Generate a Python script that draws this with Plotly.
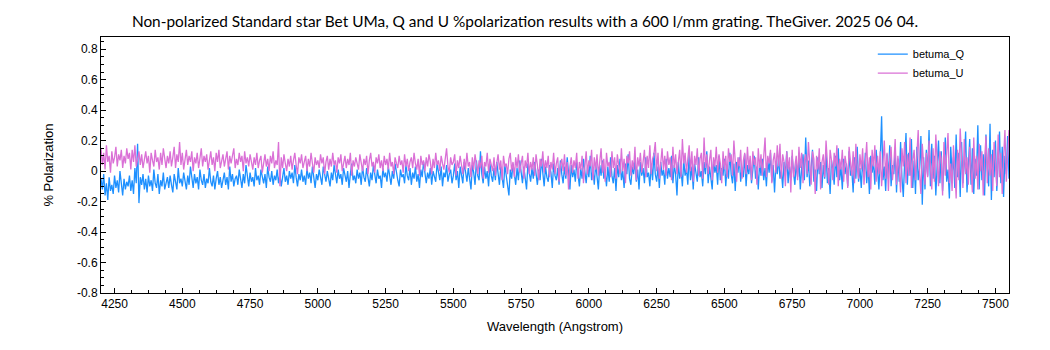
import numpy as np
import plotly.graph_objects as go

# Wavelength sampling of the two series (Angstrom)
WL_START = 4200
WL_STEP = 5

# % polarization, Q parameter (5 A steps from 4200 A)
betuma_q = [
    -0.05, -0.12, -0.02, -0.16, -0.08, -0.19, -0.04, -0.13, -0.09, -0.15,
    -0.03, -0.11, -0.06, -0.14, 0.00, -0.09, -0.16, -0.05, -0.12, -0.07,
    -0.10, -0.03, -0.13, -0.06, -0.15, 0.02, -0.08, 0.18, -0.21, -0.04,
    -0.09, -0.02, -0.12, -0.05, -0.14, -0.03, -0.10, -0.06, -0.13, 0.01,
    -0.08, -0.11, -0.02, -0.15, -0.06, -0.10, -0.01, -0.12, -0.07, -0.04,
    -0.11, -0.03, -0.09, -0.14, -0.02, -0.07, -0.12, 0.02, -0.08, -0.05,
    -0.10, -0.01, -0.07, -0.12, -0.03, -0.09, 0.03, -0.06, -0.11, -0.02,
    -0.08, -0.04, -0.12, 0.01, -0.06, -0.09, -0.02, -0.11, -0.05, -0.08,
    0.02, -0.07, -0.10, -0.03, -0.12, -0.05, 0.00, -0.09, -0.04, -0.11,
    -0.06, -0.01, -0.09, -0.04, -0.12, 0.03, -0.07, -0.02, -0.10, -0.05,
    -0.03, -0.09, 0.01, -0.06, -0.11, -0.02, -0.08, 0.04, -0.05, -0.10,
    -0.01, -0.07, -0.04, -0.10, 0.02, -0.06, -0.03, -0.09, 0.01, -0.05,
    -0.08, -0.02, -0.11, 0.03, -0.04, -0.07, 0.00, -0.09, -0.03, -0.06,
    0.01, -0.08, -0.02, -0.10, -0.05, 0.02, -0.07, -0.03, -0.09, 0.00,
    -0.05, -0.01, -0.08, 0.04, -0.04, -0.10, -0.02, -0.06, 0.01, -0.07,
    -0.03, -0.09, 0.02, -0.05, -0.01, -0.08, 0.03, -0.04, -0.11, -0.02,
    -0.06, 0.01, -0.04, -0.09, 0.03, -0.02, -0.07, 0.00, -0.05, -0.10,
    -0.01, -0.06, 0.04, -0.03, -0.08, 0.01, -0.05, -0.02, -0.09, 0.02,
    -0.04, -0.07, 0.00, -0.11, -0.02, 0.05, -0.06, -0.03, -0.08, 0.01,
    -0.05, -0.01, -0.09, 0.03, -0.04, -0.07, 0.02, -0.03, -0.10, -0.01,
    -0.06, 0.04, -0.02, -0.08, 0.01, -0.05, -0.03, -0.11, 0.02, -0.04,
    -0.01, -0.07, 0.03, -0.03, -0.09, 0.00, -0.05, 0.05, -0.02, -0.06,
    -0.10, 0.01, -0.04, -0.02, -0.08, 0.04, -0.03, -0.06, 0.02, -0.09,
    -0.01, -0.05, 0.03, -0.07, -0.02, -0.11, 0.01, -0.04, 0.06, -0.03,
    -0.08, -0.01, -0.05, 0.02, -0.09, 0.00, -0.03, -0.07, 0.05, -0.02,
    -0.06, 0.03, -0.10, -0.01, -0.04, 0.04, -0.07, -0.02, 0.01, -0.08,
    -0.03, 0.05, -0.06, 0.00, -0.11, 0.03, -0.04, -0.08, 0.06, -0.02,
    -0.07, 0.02, -0.05, -0.12, 0.04, -0.01, -0.09, 0.07, -0.03, -0.06,
    0.13, -0.02, -0.08, 0.03, -0.05, 0.00, -0.10, 0.05, -0.03, -0.07,
    0.02, -0.06, 0.06, -0.01, -0.09, 0.03, -0.04, -0.11, 0.04, -0.02,
    -0.07, -0.16, 0.01, -0.05, 0.05, -0.03, -0.09, 0.02, -0.06, 0.07,
    -0.02, -0.08, 0.03, -0.04, -0.12, 0.05, -0.01, -0.07, 0.02, -0.05,
    0.06, -0.03, -0.09, 0.01, -0.06, 0.08, -0.02, -0.10, 0.03, -0.04,
    -0.07, 0.04, -0.01, -0.11, 0.05, -0.03, -0.06, 0.02, -0.09, 0.07,
    -0.02, -0.08, 0.03, -0.05, 0.09, -0.01, -0.12, 0.04, -0.04, 0.01,
    -0.07, 0.06, -0.03, -0.10, 0.02, -0.05, 0.08, -0.02, -0.08, 0.03,
    -0.04, 0.10, -0.06, 0.01, -0.09, 0.05, -0.02, -0.12, 0.04, -0.03,
    0.07, -0.05, -0.01, -0.10, 0.03, -0.07, 0.09, -0.03, -0.08, 0.02,
    -0.13, 0.04, -0.04, 0.08, -0.06, 0.00, -0.11, 0.05, -0.02, 0.11,
    -0.05, -0.09, 0.03, -0.02, 0.07, -0.07, 0.01, -0.12, 0.06, -0.03,
    0.02, -0.08, 0.09, -0.04, -0.01, -0.10, 0.05, -0.06, 0.12, -0.02,
    -0.07, 0.03, -0.11, 0.06, -0.03, 0.01, -0.09, 0.08, -0.05, 0.02,
    -0.04, 0.10, -0.08, 0.04, -0.02, -0.16, 0.06, -0.05, 0.01, -0.10,
    0.07, -0.03, 0.02, -0.09, 0.11, -0.06, 0.03, -0.12, 0.05, -0.01,
    -0.07, 0.09, -0.04, 0.00, -0.10, 0.06, -0.02, 0.13, -0.08, 0.03,
    -0.05, -0.12, 0.07, -0.01, 0.04, -0.09, 0.10, -0.06, 0.02, -0.03,
    0.08, -0.10, 0.03, -0.05, 0.12, -0.02, -0.08, 0.05, -0.13, 0.06,
    -0.01, 0.09, -0.07, 0.02, -0.04, 0.11, -0.10, 0.04, -0.02, 0.07,
    -0.08, 0.01, 0.10, -0.05, 0.03, -0.12, 0.06, -0.03, 0.08, -0.06,
    0.02, -0.10, 0.07, -0.01, 0.12, -0.07, 0.04, -0.14, 0.05, -0.02,
    0.09, -0.05, 0.01, -0.11, 0.06, -0.03, 0.13, -0.08, 0.03, -0.06,
    0.10, -0.01, -0.09, 0.05, -0.04, 0.08, -0.12, 0.02, 0.11, -0.06,
    0.22, -0.04, 0.07, -0.10, 0.03, 0.14, -0.07, 0.01, -0.13, 0.09,
    -0.02, 0.06, -0.11, 0.04, -0.05, 0.12, -0.08, 0.02, -0.15, 0.07,
    0.01, -0.09, 0.10, -0.04, 0.15, -0.06, 0.03, -0.12, 0.08, -0.02,
    0.05, -0.10, 0.13, -0.03, 0.01, -0.14, 0.09, -0.05, 0.16, -0.07,
    0.02, -0.11, 0.07, -0.04, 0.12, -0.08, 0.04, -0.15, 0.10, -0.01,
    0.06, -0.09, 0.14, -0.03, -0.12, 0.08, 0.36, -0.06, 0.03, -0.13,
    0.11, -0.05, 0.17, -0.10, 0.04, -0.02, 0.13, -0.14, 0.08, -0.07,
    0.19, -0.04, -0.17, 0.06, 0.25, -0.09, 0.12, -0.03, 0.21, -0.11,
    0.07, -0.15, 0.16, -0.06, 0.02, 0.23, -0.22, 0.09, -0.12, 0.14,
    -0.03, 0.27, -0.10, 0.18, -0.05, 0.10, -0.16, 0.04, 0.20, -0.08,
    0.13, -0.13, 0.06, 0.22, -0.07, 0.01, -0.18, 0.16, -0.02, 0.09,
    -0.11, 0.24, -0.04, 0.12, -0.17, 0.19, -0.08, 0.05, 0.26, -0.14,
    0.03, 0.21, -0.09, 0.15, -0.15, 0.08, -0.03, 0.30, -0.12, 0.17,
    -0.06, 0.11, -0.16, 0.24, 0.02, -0.10, 0.31, -0.19, 0.14, -0.04,
    0.20, -0.13, 0.07, 0.26, -0.08, 0.16, -0.17, 0.10, -0.02, 0.23,
    -0.05,
]

# % polarization, U parameter
betuma_u = [
    0.15, 0.04, 0.12, 0.01, 0.17, 0.06, 0.10, -0.01, 0.13, 0.05,
    0.09, 0.16, 0.03, 0.11, 0.07, 0.14, 0.02, 0.10, 0.05, 0.15,
    0.08, 0.12, 0.01, 0.14, 0.06, 0.17, 0.03, 0.09, 0.13, 0.04,
    0.11, 0.02, 0.08, 0.13, 0.05, 0.10, -0.01, 0.12, 0.07, 0.03,
    0.14, 0.06, 0.09, 0.01, 0.12, 0.04, 0.15, 0.07, 0.02, 0.10,
    0.05, 0.13, 0.03, 0.09, 0.16, 0.02, 0.11, 0.06, 0.19, 0.04,
    0.12, 0.01, 0.08, 0.14, 0.04, 0.10, 0.06, 0.13, 0.00, 0.09,
    0.05, 0.12, 0.02, 0.08, 0.15, 0.03, 0.10, 0.06, 0.11, 0.01,
    0.07, 0.13, 0.04, 0.09, 0.00, 0.12, 0.06, 0.14, 0.02, 0.08,
    0.11, 0.03, 0.07, 0.13, 0.01, 0.10, 0.05, 0.09, 0.15, 0.02,
    0.08, 0.04, 0.12, 0.06, 0.10, 0.00, 0.13, 0.05, 0.09, 0.03,
    0.11, 0.06, 0.01, 0.09, 0.04, 0.12, 0.02, 0.07, 0.10, -0.01,
    0.06, 0.11, 0.03, 0.08, 0.00, 0.10, 0.05, 0.13, 0.02, 0.07,
    0.04, 0.19, -0.10, 0.09, 0.02, 0.11, 0.05, 0.00, 0.08, 0.03,
    0.10, 0.01, 0.07, 0.12, 0.04, -0.02, 0.09, 0.05, 0.11, 0.02,
    0.06, 0.10, 0.00, 0.08, 0.03, 0.12, 0.05, -0.01, 0.09, 0.04,
    0.07, 0.02, 0.11, 0.05, 0.09, -0.02, 0.06, 0.10, 0.01, 0.08,
    0.03, 0.12, 0.04, 0.07, -0.01, 0.09, 0.05, 0.11, 0.00, 0.06,
    0.10, 0.02, 0.08, 0.04, 0.12, -0.03, 0.07, 0.03, 0.09, 0.05,
    0.01, 0.11, 0.06, 0.00, 0.08, 0.04, 0.10, -0.02, 0.07, 0.12,
    0.03, 0.06, -0.01, 0.09, 0.05, 0.11, 0.02, 0.07, 0.00, 0.10,
    0.04, 0.08, 0.01, 0.12, 0.03, 0.06, -0.02, 0.09, 0.05, 0.02,
    0.10, 0.04, 0.07, -0.01, 0.11, 0.03, 0.08, 0.00, 0.06, 0.09,
    0.02, 0.12, 0.05, 0.01, 0.08, -0.03, 0.10, 0.04, 0.07, 0.00,
    0.09, 0.03, 0.11, 0.06, -0.02, 0.08, 0.02, 0.12, 0.04, 0.07,
    0.00, 0.10, 0.05, 0.01, 0.08, 0.15, 0.03, -0.01, 0.09, 0.04,
    0.06, 0.11, -0.03, 0.07, 0.02, 0.10, 0.04, -0.02, 0.08, 0.01,
    0.12, 0.03, 0.06, -0.04, 0.09, 0.01, 0.11, 0.05, -0.02, 0.07,
    0.02, 0.10, -0.05, 0.06, 0.03, 0.12, -0.01, 0.08, 0.04, 0.00,
    0.09, -0.03, 0.05, 0.11, 0.01, 0.07, -0.06, 0.10, 0.03, 0.05,
    -0.02, 0.08, 0.12, 0.00, 0.06, -0.04, 0.09, 0.02, 0.11, -0.01,
    0.05, 0.10, -0.05, 0.07, 0.02, 0.12, -0.02, 0.06, 0.01, 0.09,
    -0.03, 0.11, 0.04, -0.06, 0.08, 0.03, 0.13, -0.01, 0.07, 0.02,
    0.10, -0.04, 0.06, 0.01, 0.12, -0.02, 0.05, 0.09, -0.07, 0.04,
    0.08, 0.00, 0.11, -0.03, 0.06, -0.12, 0.03, 0.09, -0.01, 0.07,
    0.02, 0.12, -0.05, 0.06, 0.01, 0.10, -0.08, 0.05, 0.13, -0.02,
    0.07, 0.03, 0.14, -0.06, 0.09, 0.01, 0.11, -0.03, 0.06, 0.15,
    -0.01, 0.08, -0.07, 0.12, 0.03, 0.06, -0.04, 0.13, 0.02, 0.09,
    -0.05, 0.11, 0.04, -0.02, 0.15, 0.00, 0.08, -0.08, 0.10, 0.05,
    0.13, -0.03, 0.07, 0.01, 0.16, -0.06, 0.09, 0.03, 0.12, -0.01,
    0.06, 0.14, -0.04, 0.10, 0.02, 0.17, -0.02, 0.08, 0.11, 0.19,
    0.00, 0.12, -0.05, 0.07, 0.15, 0.01, 0.10, -0.03, 0.13, 0.04,
    0.09, -0.06, 0.16, 0.02, 0.11, -0.02, 0.08, 0.14, -0.04, 0.21,
    0.05, 0.12, -0.01, 0.09, 0.17, 0.00, 0.13, -0.07, 0.10, 0.04,
    0.15, -0.03, 0.08, 0.12, -0.05, 0.22, 0.02, 0.11, -0.02, 0.07,
    0.14, -0.06, 0.09, 0.03, 0.16, -0.01, 0.11, 0.05, -0.08, 0.13,
    0.01, 0.10, -0.04, 0.15, 0.06, 0.11, -0.03, 0.20, 0.08, -0.07,
    0.09, 0.03, 0.14, -0.05, 0.07, 0.12, -0.02, 0.16, 0.01, 0.10,
    -0.06, 0.13, 0.04, 0.09, -0.09, 0.15, 0.02, 0.11, -0.03, 0.08,
    0.22, -0.04, 0.10, 0.05, 0.14, -0.08, 0.07, 0.12, -0.01, 0.17,
    0.03, 0.18, -0.05, 0.11, 0.06, -0.10, 0.13, 0.01, 0.09, -0.14,
    0.14, -0.04, 0.05, 0.10, -0.06, 0.16, 0.02, 0.12, -0.08, 0.07,
    0.11, -0.02, 0.19, 0.04, -0.09, 0.13, 0.08, -0.15, 0.10, 0.01,
    0.15, -0.12, 0.06, 0.11, -0.04, 0.20, 0.02, -0.09, 0.14, 0.07,
    -0.06, 0.12, 0.03, 0.17, -0.10, 0.08, 0.01, 0.14, -0.07, 0.10,
    0.04, -0.11, 0.16, 0.06, -0.03, 0.13, -0.08, 0.18, 0.02, -0.05,
    0.11, 0.01, 0.15, -0.09, 0.07, 0.19, -0.04, 0.09, -0.12, 0.14,
    0.03, 0.17, -0.07, 0.10, -0.02, 0.13, -0.10, 0.06, 0.20, -0.05,
    0.12, -0.13, 0.08, 0.16, -0.06, 0.04, 0.21, -0.09, 0.10, 0.01,
    -0.14, 0.15, 0.03, 0.19, -0.08, 0.11, -0.03, 0.22, -0.11, 0.07,
    0.14, -0.06, 0.09, 0.27, -0.02, -0.15, 0.18, 0.04, -0.09, 0.12,
    -0.04, 0.20, 0.06, -0.12, 0.15, -0.07, 0.24, 0.01, -0.10, 0.13,
    0.08, -0.16, 0.19, -0.03, 0.11, 0.25, -0.08, 0.05, -0.13, 0.17,
    0.02, -0.18, 0.14, -0.06, 0.28, 0.03, -0.11, 0.21, -0.02, 0.09,
    -0.09, 0.16, 0.04, -0.14, 0.22, -0.05, 0.10, -0.12, 0.18, 0.00,
    0.13, -0.16, 0.07, 0.23, -0.08, 0.15, -0.03, 0.11, -0.13, 0.19,
    0.05, -0.10, 0.24, -0.04, 0.12, -0.15, 0.08, 0.27, -0.07, 0.14,
    0.27,
]

x_tick_vals = [4250, 4500, 4750, 5000, 5250, 5500, 5750, 6000, 6250, 6500, 6750, 7000, 7250, 7500]
y_tick_vals = [-0.8, -0.6, -0.4, -0.2, 0, 0.2, 0.4, 0.6, 0.8]
y_tick_text = ["-0.8", "-0.6", "-0.4", "-0.2", "0", "0.2", "0.4", "0.6", "0.8"]

wl_q = WL_START + WL_STEP * np.arange(len(betuma_q))
wl_u = WL_START + WL_STEP * np.arange(len(betuma_u))

SANS = "Liberation Sans, Arial, sans-serif"
TICK_FONT = dict(family=SANS, size=12, color="black")
AXIS_TITLE_FONT = dict(family=SANS, size=13, color="black")

fig = go.Figure()
fig.add_trace(go.Scatter(x=wl_q, y=betuma_q, mode="lines", name="betuma_Q",
                         line=dict(color="#1E90FF", width=1.3)))
fig.add_trace(go.Scatter(x=wl_u, y=betuma_u, mode="lines", name="betuma_U",
                         line=dict(color="#DA70D6", width=1.3)))

axis_common = dict(showline=True, linecolor="black", linewidth=1, mirror=True,
                   showgrid=False, zeroline=False, ticks="inside", ticklen=5,
                   tickcolor="black", tickfont=TICK_FONT)

fig.update_layout(
    width=1050, height=350,
    margin=dict(l=101, r=41, t=37, b=57),
    paper_bgcolor="white", plot_bgcolor="white",
    title=dict(text="Non-polarized Standard star Bet UMa, Q and U %polarization results with a 600 l/mm grating. TheGiver. 2025 06 04.",
               x=0.5, xanchor="center", y=0.937, yanchor="middle",
               font=dict(family="Lato, sans-serif", size=15.4, color="black")),
    xaxis=dict(range=[4200, 7550], tickvals=x_tick_vals,
               minor=dict(dtick=62.5, tick0=4250, ticks="inside", ticklen=3, tickcolor="black"),
               title=dict(text="Wavelength (Angstrom)", font=AXIS_TITLE_FONT, standoff=11),
               **axis_common),
    yaxis=dict(range=[-0.8, 0.88], tickvals=y_tick_vals, ticktext=y_tick_text,
               minor=dict(dtick=0.05, tick0=0, ticks="inside", ticklen=3, tickcolor="black"),
               title=dict(text="% Polarization", font=AXIS_TITLE_FONT, standoff=20),
               **axis_common),
    legend=dict(x=0.850, y=0.99, xanchor="left", yanchor="top",
                bgcolor="rgba(0,0,0,0)", font=dict(family=SANS, size=11, color="black"),
                itemwidth=30, tracegroupgap=0),
    showlegend=True,
)

fig.write_html("out.html")
